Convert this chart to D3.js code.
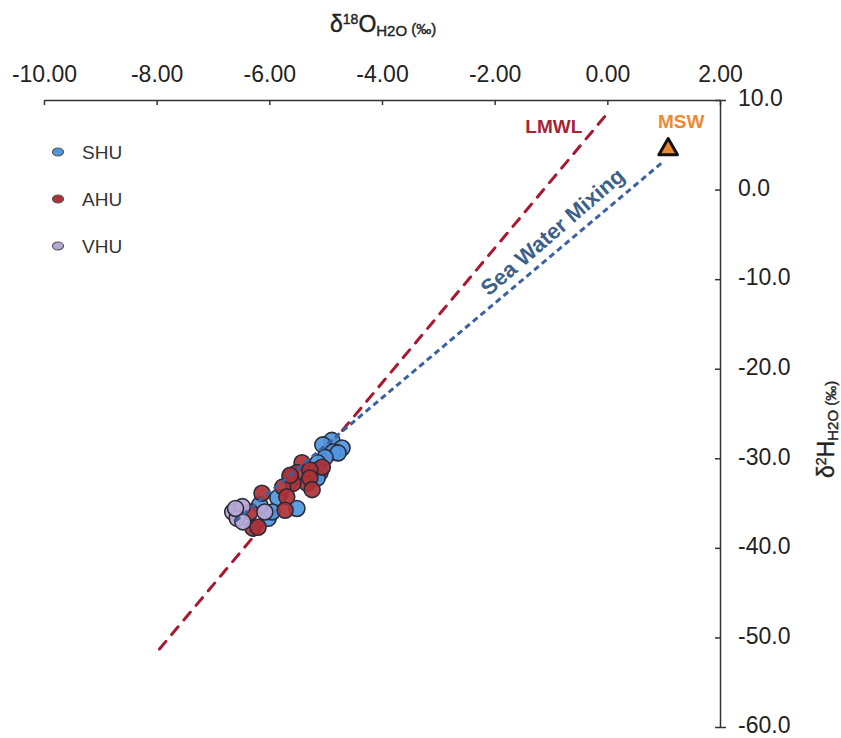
<!DOCTYPE html>
<html>
  <head>
    <meta charset="utf-8">
    <title>Isotopes</title>
    <script src="https://cdn.jsdelivr.net/npm/d3@7"></script>
    <style>
      body { margin: 0; background: #fff; }
      svg text { font-family: "Liberation Sans", Arial, sans-serif; fill: #222; }
      .axis path, .axis line { stroke: #333; stroke-width: 1.5; }
      .axis text { font-size: 23px; fill: #222; }
      .title { stroke: #222; stroke-width: 0.4; }
    </style>
  </head>
  <body>
    <svg id="chart" width="841" height="738"></svg>
  </body>
  <script>
    // values (delta 18O, delta 2H in permil)
    const shuPoints = [
      [-4.89, -28.0], [-4.71, -28.85], [-5.05, -28.5], [-4.87, -29.3], [-4.78, -29.4],
      [-5.01, -29.9], [-5.14, -30.5], [-5.15, -31.3], [-5.10, -31.6], [-5.15, -32.2],
      [-5.85, -34.4], [-5.51, -35.6], [-6.02, -36.7], [-5.95, -36.0], [-6.17, -35.2]
    ];
    const ahuPoints = [
      [-5.06, -31.0], [-5.42, -30.5], [-5.51, -31.6], [-5.28, -31.3], [-5.33, -32.8],
      [-5.63, -32.1], [-5.58, -32.8], [-5.28, -32.2], [-5.76, -33.2], [-5.24, -33.5],
      [-5.69, -34.3], [-5.72, -35.8], [-6.13, -33.9], [-6.29, -37.8], [-6.20, -37.7],
      [-6.34, -36.0], [-5.63, -31.9]
    ];
    const vhuPoints = [
      [-6.65, -36.0], [-6.48, -35.4], [-6.57, -36.7], [-6.47, -37.1], [-6.08, -36.0], [-6.60, -35.6]
    ];
    const lmwlLine = [[-7.95, -51.3], [0.0, 8.5]];
    const mixingLine = [[-6.6, -37.0], [0.97, 3.0]];
    const mswPoint = [1.08, 4.5];
    const xTicks = [-10, -8, -6, -4, -2, 0, 2];
    const yTicks = [10, 0, -10, -20, -30, -40, -50, -60];

    const series = [
      { name: "SHU", points: shuPoints, color: "#4f96df" },
      { name: "AHU", points: ahuPoints, color: "#ad3237" },
      { name: "VHU", points: vhuPoints, color: "#b6a8d6" }
    ];

    const svg = d3.select("#chart");
    const x = d3.scaleLinear().domain([-10, 2]).range([44, 720]);
    const y = d3.scaleLinear().domain([-60, 10]).range([727, 100]);

    // axes: x on top, y on the right, ticks pointing inward
    svg.append("g")
      .attr("class", "axis")
      .attr("transform", `translate(0,${y(10)})`)
      .call(d3.axisTop(x).tickValues(xTicks).tickSizeInner(-5).tickSizeOuter(0)
        .tickPadding(18).tickFormat((d) => d.toFixed(2)));

    svg.append("g")
      .attr("class", "axis")
      .attr("transform", `translate(${x(2)},0)`)
      .call(d3.axisRight(y).tickValues(yTicks).tickSizeInner(-5).tickSizeOuter(6)
        .tickPadding(18).tickFormat((d) => d.toFixed(1)))
      .selectAll("text")
      .attr("dy", "0.25em");

    // axis titles
    const xTitle = svg.append("text").attr("class", "title").attr("x", 330).attr("y", 32).style("font-size", "23px");
    xTitle.append("tspan").text("δ");
    xTitle.append("tspan").text("18").style("font-size", "14px").attr("dy", -8);
    xTitle.append("tspan").text("O").attr("dy", 8);
    xTitle.append("tspan").text("H2O").style("font-size", "15px").attr("dy", 4);
    xTitle.append("tspan").text(" (‰)").style("font-size", "15px").attr("dy", -2);

    const yTitle = svg.append("text")
      .attr("class", "title")
      .attr("transform", "translate(834,478) rotate(-90)")
      .style("font-size", "23px");
    yTitle.append("tspan").text("δ");
    yTitle.append("tspan").text("2").style("font-size", "14px").attr("dy", -8);
    yTitle.append("tspan").text("H").attr("dy", 8);
    yTitle.append("tspan").text("H2O").style("font-size", "15px").attr("dy", 4);
    yTitle.append("tspan").text(" (‰)").style("font-size", "15px").attr("dy", -2);

    const line = d3.line().x((d) => x(d[0])).y((d) => y(d[1]));

    // local meteoric water line
    svg.append("path")
      .attr("d", line(lmwlLine))
      .attr("fill", "none")
      .attr("stroke", "#a8182e")
      .attr("stroke-width", 3)
      .attr("stroke-linecap", "round")
      .attr("stroke-dasharray", "10 9");

    // sample points
    series.forEach((s) => {
      svg.append("g")
        .selectAll("circle")
        .data(s.points)
        .join("circle")
        .attr("cx", (d) => x(d[0]))
        .attr("cy", (d) => y(d[1]))
        .attr("r", 8)
        .attr("fill", s.color)
        .attr("fill-opacity", 0.92)
        .attr("stroke", "#2b2b38")
        .attr("stroke-width", 1.6);
    });

    // sea water mixing line
    svg.append("path")
      .attr("d", line(mixingLine))
      .attr("fill", "none")
      .attr("stroke", "#3a62a0")
      .attr("stroke-width", 3)
      .attr("stroke-dasharray", "6 4");

    // MSW marker
    svg.append("path")
      .attr("d", d3.symbol(d3.symbolTriangle, 150)())
      .attr("transform", `translate(${x(mswPoint[0])},${y(mswPoint[1])})`)
      .attr("fill", "#e8892f")
      .attr("stroke", "#111")
      .attr("stroke-width", 3)
      .attr("stroke-linejoin", "round");

    // labels
    svg.append("text")
      .attr("x", x(lmwlLine[1][0]) - 25)
      .attr("y", y(lmwlLine[1][1]) + 20)
      .attr("text-anchor", "end")
      .style("font-size", "19px")
      .style("font-weight", "bold")
      .style("fill", "#a52434")
      .text("LMWL");

    svg.append("text")
      .attr("x", x(mswPoint[0]) + 13)
      .attr("y", y(mswPoint[1]) - 21)
      .attr("text-anchor", "middle")
      .style("font-size", "19px")
      .style("font-weight", "bold")
      .style("fill", "#ec8a33")
      .text("MSW");

    const mx0 = x(mixingLine[0][0]), my0 = y(mixingLine[0][1]);
    const mx1 = x(mixingLine[1][0]), my1 = y(mixingLine[1][1]);
    const angle = Math.atan2(my1 - my0, mx1 - mx0) * 180 / Math.PI;
    const tx = 564, ty = my0 + (my1 - my0) * (tx - mx0) / (mx1 - mx0);
    svg.append("text")
      .attr("transform", `translate(${tx},${ty}) rotate(${angle - 0.8}) translate(0,-10)`)
      .attr("text-anchor", "middle")
      .style("font-size", "22px")
      .style("font-weight", "bold")
      .style("fill", "#3d5f8c")
      .text("Sea Water Mixing");

    // legend
    const legend = svg.append("g").selectAll("g")
      .data(series)
      .join("g")
      .attr("transform", (d, i) => `translate(58,${152 + i * 47})`);
    legend.append("ellipse")
      .attr("rx", 5.5)
      .attr("ry", 4)
      .attr("fill", (d) => d.color)
      .attr("stroke", "#555")
      .attr("stroke-width", 1.2);
    legend.append("text")
      .attr("x", 24)
      .attr("y", 7)
      .style("font-size", "19px")
      .style("fill", "#333")
      .text((d) => d.name);
  </script>
</html>
